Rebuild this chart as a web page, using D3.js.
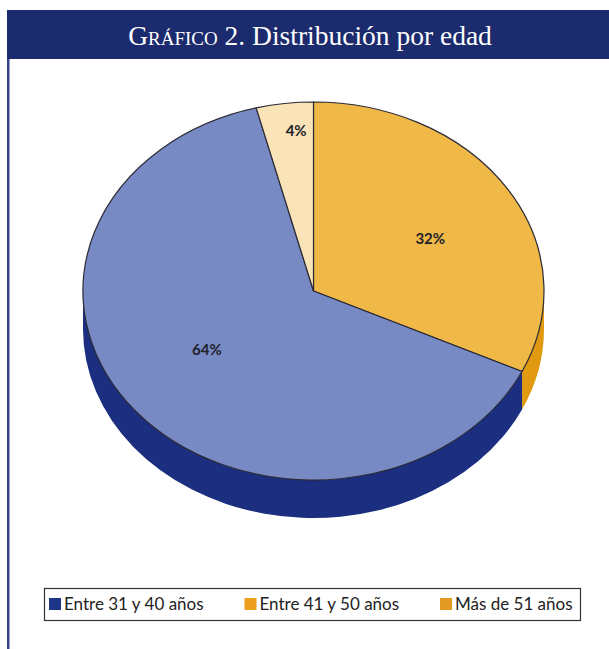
<!DOCTYPE html>
<html>
<head>
<meta charset="utf-8">
<script src="https://cdn.jsdelivr.net/npm/d3@7"></script>
<style>
  body { margin: 0; background: #fff; }
</style>
</head>
<body>
<div id="chart"></div>
<script>
// chart data
const titleLead = "Gráfico";
const titleRest = " 2. Distribución por edad";
const categories = ["Entre 31 y 40 años", "Entre 41 y 50 años", "Más de 51 años"];
const values = [64, 32, 4];
const labels = ["64%", "32%", "4%"];
// order in which slices go round, clockwise from 12 o'clock
const sliceOrder = [1, 0, 2];

const topColors = ["#778ac4", "#f0b846", "#fbe3b8"];
const sideColors = ["#1b2e80", "#e1990f", "#e6ad5a"];
const legendColors = ["#1d3687", "#ec9f1c", "#e39a22"];

const width = 609, height = 649;

const svg = d3.select("#chart")
    .append("svg")
    .attr("width", width)
    .attr("height", height);

// header band + left rule
svg.append("rect")
    .attr("x", 7).attr("y", 10)
    .attr("width", width - 7).attr("height", 49)
    .attr("fill", "#1c2b6d");
svg.append("rect")
    .attr("x", 7).attr("y", 59)
    .attr("width", 2.5).attr("height", height - 59)
    .attr("fill", "#34438a");

const title = svg.append("text")
    .attr("x", 310).attr("y", 45)
    .attr("text-anchor", "middle")
    .style("font-family", "'Liberation Serif', 'DejaVu Serif', serif")
    .style("font-size", "27.5px")
    .attr("fill", "#ffffff");
title.append("tspan").style("font-variant", "small-caps").text(titleLead);
title.append("tspan").text(titleRest);

// the pie, drawn as a tilted ellipse with a thick edge
const cx = 313.5, cy = 291, rx = 230.5, ry = 189, depth = 38;

// map angle (clockwise from top) onto the ellipse
const px = d3.scaleLinear().domain([-1, 1]).range([cx - rx, cx + rx]);
const py = d3.scaleLinear().domain([-1, 1]).range([cy - ry, cy + ry]);
const pt = (a, dy = 0) => [px(Math.sin(a)), py(-Math.cos(a)) + dy];

const pie = d3.pie().sort(null).value(i => values[i]);
const arcs = pie(sliceOrder);

function topPath(d) {
    const p0 = pt(d.startAngle), p1 = pt(d.endAngle);
    const large = d.endAngle - d.startAngle > Math.PI ? 1 : 0;
    return `M${cx},${cy}L${p0}A${rx},${ry} 0 ${large} 1 ${p1}Z`;
}

// only the front half (angles between PI/2 and 3PI/2) shows its edge
function sidePath(d) {
    const a0 = Math.max(d.startAngle, Math.PI / 2);
    const a1 = Math.min(d.endAngle, 3 * Math.PI / 2);
    if (a1 <= a0) return null;
    const p0 = pt(a0), p1 = pt(a1);
    const q0 = pt(a0, depth), q1 = pt(a1, depth);
    return `M${p0}A${rx},${ry} 0 0 1 ${p1}L${q1}A${rx},${ry} 0 0 0 ${q0}Z`;
}

const g = svg.append("g");

g.selectAll("path.side")
    .data(arcs.filter(d => sidePath(d)))
    .enter().append("path")
    .attr("class", "side")
    .attr("d", sidePath)
    .attr("fill", d => sideColors[d.data])
    .attr("stroke", "none");

g.selectAll("path.top")
    .data(arcs)
    .enter().append("path")
    .attr("class", "top")
    .attr("d", topPath)
    .attr("fill", d => topColors[d.data])
    .attr("stroke", "#2a2a35")
    .attr("stroke-width", 1.2)
    .attr("stroke-linejoin", "round");

// percentage labels (narrow slices push their label out to the rim)
g.selectAll("text.lbl")
    .data(arcs)
    .enter().append("text")
    .attr("class", "lbl")
    .each(function (d) {
        const mid = (d.startAngle + d.endAngle) / 2;
        const ryf = values[d.data] < 10 ? 0.85 : 0.5;
        d3.select(this)
            .attr("x", cx + 0.6 * rx * Math.sin(mid))
            .attr("y", cy - ryf * ry * Math.cos(mid) + 4);
    })
    .attr("text-anchor", "middle")
    .style("font-family", "Lato, 'Open Sans', sans-serif")
    .style("font-size", "15px")
    .style("font-weight", "bold")
    .attr("fill", "#22222a")
    .text(d => labels[d.data]);

// legend
const legend = svg.append("g").attr("class", "legend");
legend.append("rect")
    .attr("x", 44.5).attr("y", 588.5)
    .attr("width", 536).attr("height", 32)
    .attr("fill", "#fff")
    .attr("stroke", "#333")
    .attr("stroke-width", 1.2);

const legendX = d3.scalePoint()
    .domain(categories)
    .range([49, 440]);

const item = legend.selectAll("g.item")
    .data(categories)
    .enter().append("g")
    .attr("class", "item")
    .attr("transform", d => `translate(${legendX(d)},598)`);

item.append("rect")
    .attr("width", 12).attr("height", 12)
    .attr("fill", (d, i) => legendColors[i]);

item.append("text")
    .attr("x", 15).attr("y", 12)
    .style("font-family", "Lato, 'Open Sans', sans-serif")
    .style("font-size", "17px")
    .attr("fill", "#222")
    .text(d => d);
</script>
</body>
</html>
